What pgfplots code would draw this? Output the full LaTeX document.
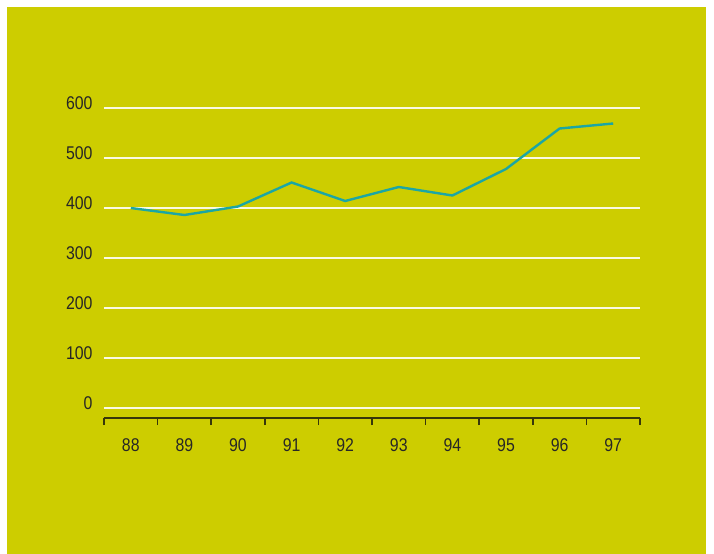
\documentclass[border=0pt]{standalone}
\usepackage{pgfplots}
\pgfplotsset{compat=1.18}
\usepackage{fontspec}
\setmainfont{Liberation Sans}[FakeStretch=0.86]
\definecolor{bg}{RGB}{205,205,0}
\definecolor{teal2}{RGB}{28,166,164}
\definecolor{axisdark}{RGB}{55,55,10}
\definecolor{gridc}{RGB}{250,250,225}
\begin{document}
\begin{tikzpicture}
\fill[white] (-104bp,-136bp) rectangle (610bp,418bp);
\fill[bg] (-97bp,-136bp) rectangle (602bp,411bp);
\begin{axis}[
  at={(0,0)}, anchor=south west,
  scale only axis, width=536bp, height=310bp,
  xmin=0, xmax=10, ymin=-20, ymax=600,
  axis x line*=bottom, axis y line*=left,
  y axis line style={draw=none},
  x axis line style={draw=axisdark, line width=1.8bp},
  ytick={0,100,...,600},
  ymajorgrids, grid style={gridc, line width=1.3bp},
  ytick style={draw=none},
  yticklabel style={anchor=east, inner sep=0pt, xshift=-7bp, yshift=4.5bp, font=\fontsize{18.5}{20}\selectfont, text=black!85},
  xtick={0.5,1.5,...,9.5},
  xticklabels={88,89,90,91,92,93,94,95,96,97},
  major x tick style={draw=none},
  minor xtick={0,1,...,10},
  minor x tick style={draw=axisdark, line width=1.5bp},
  minor tick length=7bp,
  tick align=outside,
  xticklabel style={anchor=north, inner sep=0pt, yshift=-16bp, font=\fontsize{18.5}{20}\selectfont, text=black!85},
  /pgf/number format/assume math mode=true,
  axis background/.style={fill=none},
  clip=false,
]
\addplot[teal2, line width=2.4bp, mark=none] coordinates {
(0.5,400) (1.5,386) (2.5,403) (3.5,451) (4.5,414) (5.5,442) (6.5,425) (7.5,478) (8.5,559) (9.5,569)
};
\end{axis}
\end{tikzpicture}
\end{document}
